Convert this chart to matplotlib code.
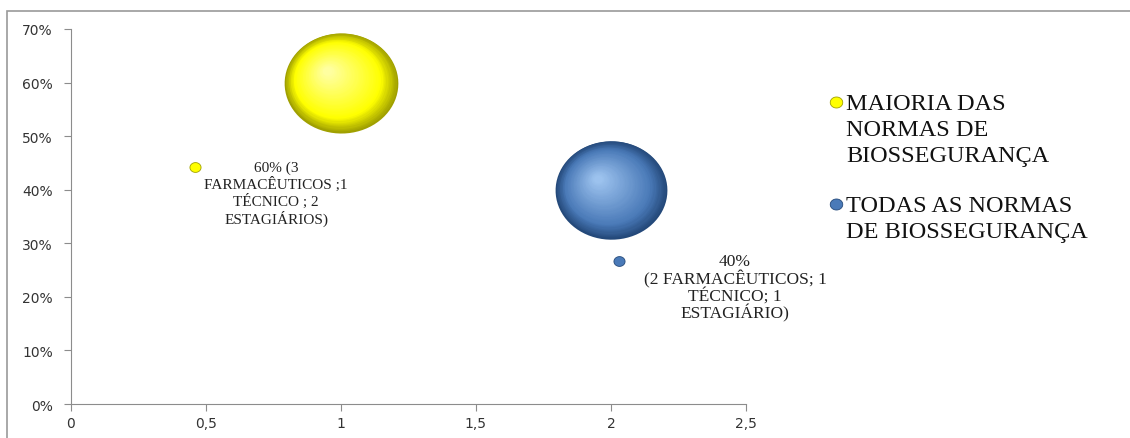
import numpy as np
import matplotlib
matplotlib.use("Agg")
import matplotlib.pyplot as plt
from matplotlib.path import Path
from matplotlib.patches import Rectangle
from matplotlib.transforms import ScaledTranslation
from matplotlib.colors import to_rgb

# Dados
series = ["MAIORIA DAS\nNORMAS DE\nBIOSSEGURANÇA", "TODAS AS NORMAS\nDE BIOSSEGURANÇA"]
bubble_x = [1.0, 2.0]
bubble_y = [0.60, 0.40]
bubble_size = [3.0, 2.95]
label_x = [0.46, 2.03]
label_y = [0.442, 0.267]
labels = ["60% (3\nFARMACÊUTICOS ;1\nTÉCNICO ; 2\nESTAGIÁRIOS)",
          "40%\n(2 FARMACÊUTICOS; 1\nTÉCNICO; 1\nESTAGIÁRIO)"]
xticks = [0, 0.5, 1, 1.5, 2, 2.5]
xtick_labels = ["0", "0,5", "1", "1,5", "2", "2,5"]
yticks = [0, 0.1, 0.2, 0.3, 0.4, 0.5, 0.6, 0.7]
ytick_labels = ["0%", "10%", "20%", "30%", "40%", "50%", "60%", "70%"]

# cores: borda escura, base, brilho
cores = [("#a0a000", "#ffff00", "#ffffa0"),
         ("#24497a", "#4a7ab8", "#9cc2ee")]

fig = plt.figure(figsize=(11.3, 4.39), dpi=100)
ax = fig.add_axes([0.0628, 0.0774, 0.5973, 0.8543])

# marcador elíptico (bolhas levemente achatadas)
t = np.linspace(0, 2 * np.pi, 80)
elipse = Path(np.column_stack([np.cos(t), 0.88 * np.sin(t)]), closed=True)

def mistura(c1, c2, f):
    a, b = np.array(to_rgb(c1)), np.array(to_rgb(c2))
    return tuple(a + (b - a) * f)

n = 40
for i in range(2):
    diam = 27.3 * bubble_size[i]  # pontos
    borda, base, brilho = cores[i]
    for k in range(n):
        f = k / (n - 1)
        if f < 0.25:
            c = mistura(borda, base, f / 0.25)
        else:
            c = mistura(base, brilho, (f - 0.25) / 0.75)
        d = diam * (1 - 0.92 * f)
        desl = ScaledTranslation(-0.12 * diam * f / 72, 0.10 * diam * f / 72, fig.dpi_scale_trans)
        ax.plot(bubble_x[i], bubble_y[i], linestyle="none", marker=elipse,
                markersize=d, markerfacecolor=c, markeredgewidth=0,
                transform=ax.transData + desl, zorder=3)
    # pontinho junto ao rótulo
    ax.plot(label_x[i], label_y[i], linestyle="none", marker=elipse, markersize=8,
            markerfacecolor=base, markeredgecolor=borda, markeredgewidth=0.6, zorder=3)

ax.text(label_x[0] + 0.3, label_y[0] + 0.012, labels[0], ha="center", va="top",
        family="Liberation Serif", fontsize=11, linespacing=1.15, color="#222222")
ax.text(label_x[1] + 0.43, label_y[1] + 0.014, labels[1], ha="center", va="top",
        family="Liberation Serif", fontsize=12.5, linespacing=0.98, color="#222222")

ax.set_xlim(0, 2.5)
ax.set_ylim(0, 0.7)
ax.set_xticks(xticks)
ax.set_xticklabels(xtick_labels)
ax.set_yticks(yticks)
ax.set_yticklabels(ytick_labels)
for s in ["top", "right"]:
    ax.spines[s].set_visible(False)
for s in ["left", "bottom"]:
    ax.spines[s].set_color("#8c8c8c")
ax.tick_params(colors="#8c8c8c", length=5, labelsize=10, labelcolor="#333333")
ax.tick_params(axis="y", pad=8)

# legenda
leg_y = [0.765, 0.534]
leg_top = [0.785, 0.553]
for i in range(2):
    borda, base, brilho = cores[i]
    fig.lines.append(plt.Line2D([0.7395], [leg_y[i]], transform=fig.transFigure,
                                linestyle="none", marker=elipse, markersize=9,
                                markerfacecolor=base, markeredgecolor=borda,
                                markeredgewidth=0.6))
    fig.text(0.749, leg_top[i], series[i], ha="left", va="top",
             family="Liberation Serif", fontsize=17.5, linespacing=1.3, color="#111111")

# moldura externa
fig.patches.append(Rectangle((0.0062, -0.02), 1.0, 0.9927, transform=fig.transFigure,
                             fill=False, edgecolor="#9a9a9a", linewidth=1.2))

fig.savefig("out.png", dpi=100)
